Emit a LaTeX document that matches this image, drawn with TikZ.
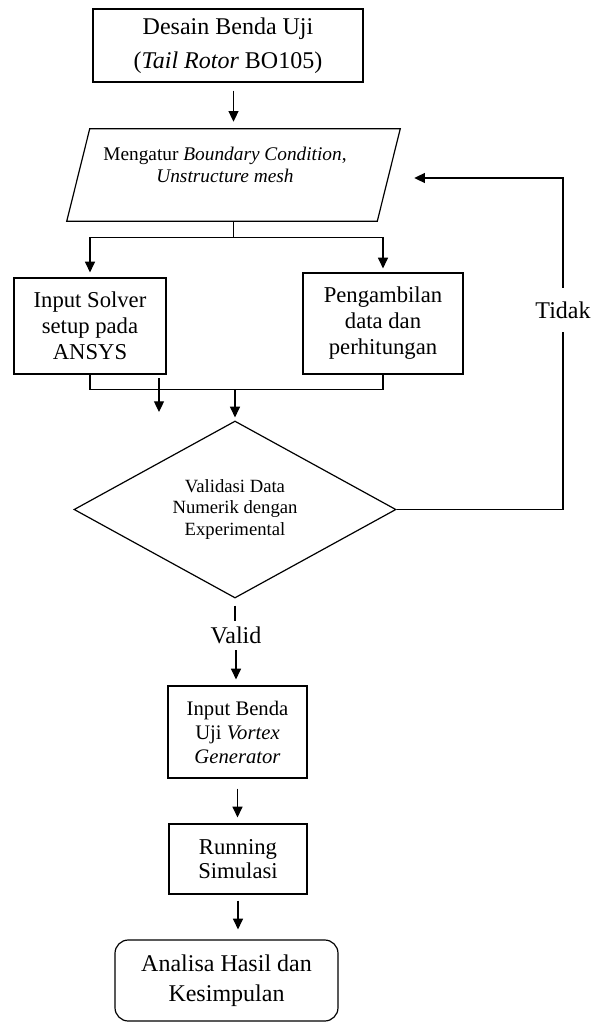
\documentclass[tikz,border=0pt]{standalone}
\usepackage{fontspec}
\setmainfont{Liberation Serif}
\usetikzlibrary{shapes.geometric, arrows.meta, positioning, calc}
\tikzset{
  stepbox/.style={draw, line width=0.9pt, align=center, inner sep=0pt},
  flow/.style={line width=0.9pt, -{Triangle[length=8pt, width=7.5pt]}},
  link/.style={line width=0.9pt},
}

\begin{document}
\begin{tikzpicture}[x=0.75pt, y=-0.75pt]
  \useasboundingbox (0,0) rectangle (606,1024);

  % Steps
  \node[stepbox, minimum width=202.5pt, minimum height=54.75pt, font=\fontsize{18}{25.5}\selectfont] (desain) at (228,45.5) {Desain Benda Uji\\(\textit{Tail Rotor} BO105)};
  \node[inner sep=0pt, minimum width=249.75pt, minimum height=69pt] (atur) at (233.5,175) {};
  \draw[link] ($(atur.north west)+(23,0)$) -- (atur.north east) -- ($(atur.south east)+(-23,0)$) -- (atur.south west) -- cycle;
  \node[font=\fontsize{14.5}{16.5}\selectfont, align=center] (aturtxt) at (225,165) {Mengatur \textit{Boundary Condition},\\\textit{Unstructure mesh}};
  \node[stepbox, minimum width=114pt, minimum height=72pt, font=\fontsize{17}{19.5}\selectfont] (solver) at (90,326) {Input Solver\\setup pada\\ANSYS};
  \node[stepbox, minimum width=120pt, minimum height=75.75pt, font=\fontsize{17}{19.5}\selectfont] (ambil) at (383,323.5) {Pengambilan\\data dan\\perhitungan};
  \node[diamond, draw, line width=0.9pt, aspect=1.82, minimum width=241.5pt, minimum height=132.75pt, inner sep=0pt, align=center, font=\fontsize{14}{16}\selectfont] (cek) at (235,509.5) {Validasi Data\\Numerik dengan\\Experimental};
  \node[font=\fontsize{18}{22}\selectfont, inner ysep=4.6pt] (valid) at (236,635.5) {Valid};
  \node[stepbox, minimum width=104.25pt, minimum height=69pt, font=\fontsize{15.5}{18}\selectfont] (vg) at (237.5,732) {Input Benda\\Uji \textit{Vortex}\\\textit{Generator}};
  \node[stepbox, minimum width=103.5pt, minimum height=52.5pt, font=\fontsize{17}{17.5}\selectfont] (run) at (238,859) {Running\\Simulasi};
  \node[stepbox, rounded corners=10pt, minimum width=167.25pt, minimum height=60.75pt, font=\fontsize{18}{22.5}\selectfont] (hasil) at (226.5,980.5) {Analisa Hasil dan\\Kesimpulan};
  \node[font=\fontsize{18}{22}\selectfont, inner xsep=0pt, inner ysep=10pt] (tidak) at (563,310) {Tidak};

  % Arrows
  \draw[flow, shorten <=6pt, shorten >=5.25pt] (desain.south -| atur.north) -- (atur.north);
  \draw[link] (atur.south) -- ++(0,16) coordinate (split);
  \draw[flow, shorten >=3.75pt] (split) -| (solver.north);
  \draw[flow, shorten >=3pt] (split) -| (ambil.north);

  \coordinate (merge) at ($(cek.north)+(0,-31)$);
  \draw[link] (solver.south) |- (merge) -| (ambil.south);
  \draw[flow, shorten >=2.25pt] (merge) -- (cek.north);
  \coordinate (strayA) at (159,378);
  \coordinate (strayB) at (159,412);
  \draw[flow] (strayA) -- (strayB);

  \draw[link, shorten <=5.25pt] (cek.south) -- (cek.south |- valid.north);
  \draw[flow, shorten >=4.5pt] (valid.south) -- (valid.south |- vg.north);
  \draw[flow, shorten <=7.5pt, shorten >=4.5pt] (vg.south) -- (vg.south |- run.north);
  \draw[flow, shorten <=4.5pt, shorten >=7.5pt] (run.south) -- (run.south |- hasil.north);

  % Tidak
  \draw[link] (cek.east) -| (tidak.south);
  \draw[flow] (tidak.north) |- ($(atur.east)+(14,3)$);
\end{tikzpicture}
\end{document}
